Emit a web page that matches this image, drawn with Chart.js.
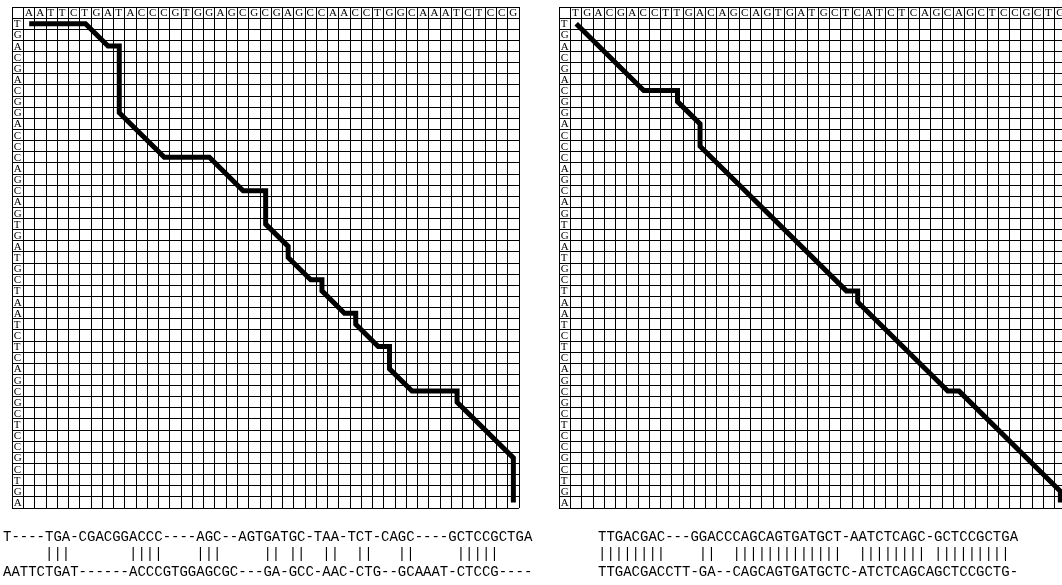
<!DOCTYPE html>
<html>
<head>
<meta charset="utf-8">
<script src="https://cdn.jsdelivr.net/npm/chart.js"></script>
<style>
  html, body { margin: 0; padding: 0; background: #fff; overflow: hidden; width: 1062px; height: 585px; }
  .box { position: absolute; top: 0; height: 585px; }
</style>
</head>
<body>
<div class="box" style="left:0px; width:545px"><canvas id="plotLeft"></canvas></div>
<div class="box" style="left:547px; width:530px"><canvas id="plotRight"></canvas></div>
<script>
// sequences (row labels down the side, column labels across the top)
const rowSeq = "TGACGACGGACCCAGCAGTGATGCTAATCTCAGCGCTCCGCTGA".split("");
const leftColSeq = "AATTCTGATACCCGTGGAGCGCGAGCCAACCTGGCAAATCTCCG".split("");
const rightColSeq = "TGACGACCTTGACAGCAGTGATGCTCATCTCAGCAGCTCCGCTG".split("");

// path vertices (cell row / cell column)
const leftPathRows = [0, 0, 2, 2, 8, 12, 12, 15, 15, 18, 20, 21, 23, 23, 24, 26, 26, 27, 29, 29, 31, 33, 33, 34, 39, 43];
const leftPathCols = [0, 5, 7, 8, 8, 12, 16, 19, 21, 21, 23, 23, 25, 26, 26, 28, 29, 29, 31, 32, 32, 34, 38, 38, 43, 43];
const rightPathRows = [0, 6, 6, 7, 9, 11, 24, 24, 25, 33, 33, 42, 43];
const rightPathCols = [0, 6, 9, 9, 11, 11, 24, 25, 25, 33, 34, 43, 43];

// alignments printed under each grid
const leftTop    = "T----TGA-CGACGGACCC----AGC--AGTGATGC-TAA-TCT-CAGC----GCTCCGCTGA";
const leftBottom = "AATTCTGAT------ACCCGTGGAGCGC---GA-GCC-AAC-CTG--GCAAAT-CTCCG----";
const rightTop    = "TTGACGAC---GGACCCAGCAGTGATGCT-AATCTCAGC-GCTCCGCTGA";
const rightBottom = "TTGACGACCTT-GA--CAGCAGTGATGCTC-ATCTCAGCAGCTCCGCTG-";

function matchLine(a, b) {
  var s = "";
  for (var i = 0; i < a.length; i++) {
    s += (a[i] === b[i] && a[i] !== "-") ? "|" : " ";
  }
  return s;
}

// writes the letters into the header row and label column, and the alignment below
const seqLabels = {
  id: "seqLabels",
  afterDraw(chart, args, opts) {
    const c = chart.ctx;
    const xs = chart.scales.x;
    const ys = chart.scales.y;
    c.save();
    c.fillStyle = "#000";
    c.font = "11px 'Liberation Serif', serif";
    c.textAlign = "left";
    c.textBaseline = "alphabetic";
    var baseHead = ys.getPixelForValue(0) - 2;
    for (var j = 0; j < opts.cols.length; j++) {
      c.fillText(opts.cols[j], xs.getPixelForValue(j) + 1.5, baseHead);
    }
    var xLab = xs.getPixelForValue(-1) + 1.5;
    for (var i = 0; i < opts.rows.length; i++) {
      c.fillText(opts.rows[i], xLab, ys.getPixelForValue(i + 1) - 2);
    }
    // alignment text
    c.font = "14px 'Liberation Mono', monospace";
    c.textBaseline = "middle";
    for (var k = 0; k < opts.lines.length; k++) {
      c.fillText(opts.lines[k], opts.textX, 537 + k * 17.5);
    }
    c.restore();
  }
};

function makeChart(id, cols, pathRows, pathCols, top, bottom, textX, padRight) {
  var pts = [];
  for (var k = 0; k < pathRows.length; k++) {
    pts.push({ x: pathCols[k] + 0.5, y: pathRows[k] + 0.5 });
  }
  var gridOpts = { color: "#000", lineWidth: 1, drawTicks: false };
  return new Chart(document.getElementById(id), {
    type: "line",
    data: {
      datasets: [{
        data: pts,
        borderColor: "#000",
        borderWidth: 5,
        borderJoinStyle: "miter",
        borderCapStyle: "butt",
        pointRadius: 0,
        fill: false,
        tension: 0
      }]
    },
    options: {
      responsive: true,
      maintainAspectRatio: false,
      animation: false,
      layout: { padding: { left: 12.3, right: padRight, top: 7, bottom: 77 } },
      plugins: {
        legend: { display: false },
        tooltip: { enabled: false },
        seqLabels: {
          cols: cols,
          rows: rowSeq,
          lines: [top, matchLine(top, bottom), bottom],
          textX: textX
        }
      },
      scales: {
        x: {
          type: "linear", min: -1, max: 44,
          ticks: { stepSize: 1, display: false },
          grid: gridOpts,
          border: { display: false }
        },
        y: {
          type: "linear", min: -1, max: 44, reverse: true,
          ticks: { stepSize: 1, display: false },
          grid: gridOpts,
          border: { display: false }
        }
      }
    },
    plugins: [seqLabels]
  });
}

var chartLeft = makeChart("plotLeft", leftColSeq, leftPathRows, leftPathCols, leftTop, leftBottom, 3, 26);
var chartRight = makeChart("plotRight", rightColSeq, rightPathRows, rightPathCols, rightTop, rightBottom, 51, 11);
</script>
</body>
</html>
